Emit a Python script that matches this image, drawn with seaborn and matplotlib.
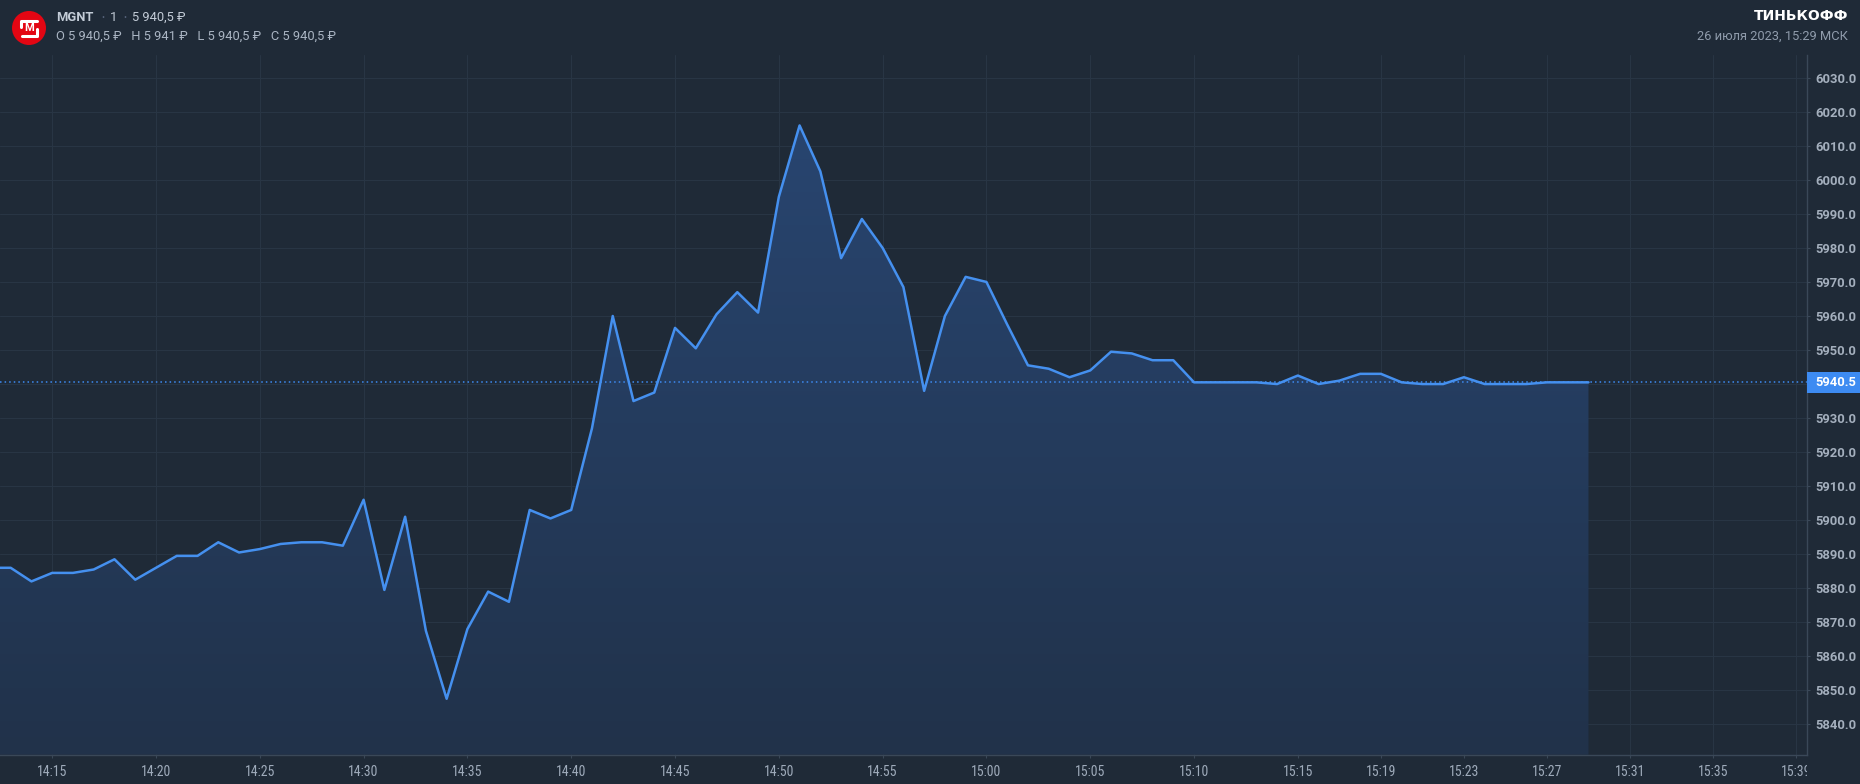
import numpy as np
import pandas as pd
import seaborn as sns
import matplotlib.pyplot as plt
import matplotlib.dates as mdates
from matplotlib.colors import LinearSegmentedColormap
from matplotlib.patches import Circle, Polygon, Rectangle
from matplotlib.transforms import blended_transform_factory, Bbox, TransformedBbox

# Котировки MGNT, интервал 1 мин, 26 июля 2023 (14:12 ... 15:29)
day = '2023-07-26'
first_minute = '14:12'
prices = [5886, 5886, 5882, 5884.5, 5884.5, 5885.5, 5888.5, 5882.5, 5886, 5889.5,
          5889.5, 5893.5, 5890.5, 5891.5, 5893, 5893.5, 5893.5, 5892.5, 5906, 5879.5,
          5901, 5867.5, 5847.5, 5868, 5879, 5876, 5903, 5900.5, 5903, 5927,
          5960, 5935, 5937.5, 5956.5, 5950.5, 5960.5, 5967, 5961, 5995, 6016,
          6002.5, 5977, 5988.5, 5980, 5968.5, 5938, 5960, 5971.5, 5970, 5957.5,
          5945.5, 5944.5, 5942, 5944, 5949.5, 5949, 5947, 5947, 5940.5, 5940.5,
          5940.5, 5940.5, 5940, 5942.5, 5940, 5941, 5943, 5943, 5940.5, 5940,
          5940, 5942, 5940, 5940, 5940, 5940.5, 5940.5, 5940.5]
last_price = 5940.5

x_tick_labels = ['14:15', '14:20', '14:25', '14:30', '14:35', '14:40', '14:45', '14:50',
                 '14:55', '15:00', '15:05', '15:10', '15:15', '15:19', '15:23', '15:27',
                 '15:31', '15:35', '15:39']
y_ticks = list(range(5840, 6031, 10))

# Цвета
bg = '#1f2a37'
grid_c = '#283544'
axis_c = '#3a4858'
line_c = '#4590ef'
text_c = '#a4afbd'

times = pd.date_range(f'{day} {first_minute}', periods=len(prices), freq='min')
df = pd.DataFrame({'time': times, 'price': prices})

sns.set_style('dark', {'axes.facecolor': bg, 'figure.facecolor': bg})

fig = plt.figure(figsize=(18.6, 7.84), dpi=100)
ax = fig.add_axes([0, 0.03737, 0.97134, 0.89248])
ax.set_facecolor(bg)

# Градиентная заливка под линией
x_num = mdates.date2num(df['time'])
y_bottom = 5831.07
verts = np.vstack([np.column_stack([x_num, prices]),
                   [[x_num[-1], y_bottom], [x_num[0], y_bottom]]])
poly = Polygon(verts, closed=True, facecolor='none', edgecolor='none')
ax.add_patch(poly)
cmap = LinearSegmentedColormap.from_list('fill', ['#21324a', '#284570'])
grad = np.linspace(1, 0, 256).reshape(-1, 1)
img = ax.imshow(grad, extent=[x_num[0], x_num[-1], y_bottom, max(prices)],
                aspect='auto', cmap=cmap, origin='upper', zorder=1)
img.set_clip_path(poly)

sns.lineplot(data=df, x='time', y='price', ax=ax, color=line_c, linewidth=1.8, zorder=3)
ax.axhline(last_price, color='#3d8bf2', linestyle=(0, (1, 2)), linewidth=1.1, zorder=2)

t0 = pd.Timestamp(f'{day} 14:15')
ax.set_xlim(mdates.date2num(t0 - pd.Timedelta(minutes=2.514)),
            mdates.date2num(t0 + pd.Timedelta(minutes=84.51)))
ax.set_ylim(y_bottom, 6036.7)

tick_pos = [mdates.date2num(pd.Timestamp(f'{day} {t}')) for t in x_tick_labels]
ax.set_xticks(tick_pos)
ax.set_xticklabels(x_tick_labels)
ax.set_yticks(y_ticks)
ax.set_yticklabels([f'{v:.1f}' for v in y_ticks])
ax.yaxis.tick_right()

ax.grid(True, color=grid_c, linewidth=0.8)
ax.set_xlabel('')
ax.set_ylabel('')
for side in ['top', 'left']:
    ax.spines[side].set_visible(False)
for side in ['bottom', 'right']:
    ax.spines[side].set_visible(True)
    ax.spines[side].set_color(axis_c)
    ax.spines[side].set_linewidth(1)

ax.tick_params(axis='x', bottom=True, length=2.5, color=axis_c, pad=5,
               labelsize=10, labelcolor='#9eaaba')
ax.tick_params(axis='y', right=True, left=False, length=2.5, color=axis_c, pad=3.5,
               labelsize=9.4, labelcolor=text_c)

# подписи времени обрезаются у шкалы цен, как в терминале
x_clip = TransformedBbox(Bbox([[0, 0], [0.97134, 0.04]]), fig.transFigure)
for lab in ax.get_xticklabels():
    lab.set_family(['Roboto Condensed', 'IBM Plex Sans Condensed', 'DejaVu Sans'])
    lab.set_clip_box(x_clip)
    lab.set_clip_on(True)
for lab in ax.get_yticklabels():
    lab.set_family(['Roboto', 'DejaVu Sans'])
    lab.set_fontweight('bold')

# Метка последней цены на шкале
tr = blended_transform_factory(ax.transAxes, ax.transData)
ax.add_patch(Rectangle((1.0, last_price - 3.1), 0.0295, 6.2, transform=tr,
                       facecolor='#3d8bf2', edgecolor='none', clip_on=False, zorder=5))
ax.text(1.0046, last_price, f'{last_price:.1f}', transform=tr, ha='left', va='center',
        color='white', fontsize=9.4, fontweight='bold', family=['Roboto', 'DejaVu Sans'],
        zorder=6, clip_on=False)

# Шапка: логотип и подписи (координаты в пикселях)
top = fig.add_axes([0, 0, 1, 1], facecolor='none')
top.set_xlim(0, 1860)
top.set_ylim(784, 0)
top.axis('off')

top.add_patch(Circle((29, 28), 17, facecolor='#e30613', edgecolor='none'))
top.plot([21, 21, 37], [27, 21, 21], color='white', lw=2.2, solid_capstyle='round')
top.plot([21.5, 37, 37], [35.5, 35.5, 29], color='white', lw=2.2, solid_capstyle='round')
top.text(29, 28.3, 'M', color='white', fontsize=8, fontweight='bold', ha='center',
         va='center', family=['Roboto', 'DejaVu Sans'])

hfam = ['Roboto', 'DejaVu Sans']
top.text(56, 17, 'MGNT', color='#c3ccd7', fontsize=9.3, fontweight='bold',
         va='center', family=hfam)
top.text(101, 17, '•', color='#56637a', fontsize=6.5, va='center', family=hfam)
top.text(110, 17, '1', color='#c3ccd7', fontsize=9.3, va='center', family=hfam)
top.text(123, 17, '•', color='#56637a', fontsize=6.5, va='center', family=hfam)
top.text(132, 17, '5 940,5 ₽', color='#c3ccd7', fontsize=9.3, va='center', family=hfam)
top.text(56, 36, 'O 5 940,5 ₽   H 5 941 ₽   L 5 940,5 ₽   C 5 940,5 ₽', color='#aab5c3',
         fontsize=9.3, va='center', family=hfam)

top.text(1848, 16, 'ТИНЬКОФФ', color='white', fontsize=10, fontweight='bold',
         ha='right', va='center', family=['DejaVu Sans'])
top.text(1848, 36, '26 июля 2023, 15:29 МСК', color='#8f9bab', fontsize=9.3,
         ha='right', va='center', family=hfam)

fig.savefig('out.png', dpi=100, facecolor=bg)
